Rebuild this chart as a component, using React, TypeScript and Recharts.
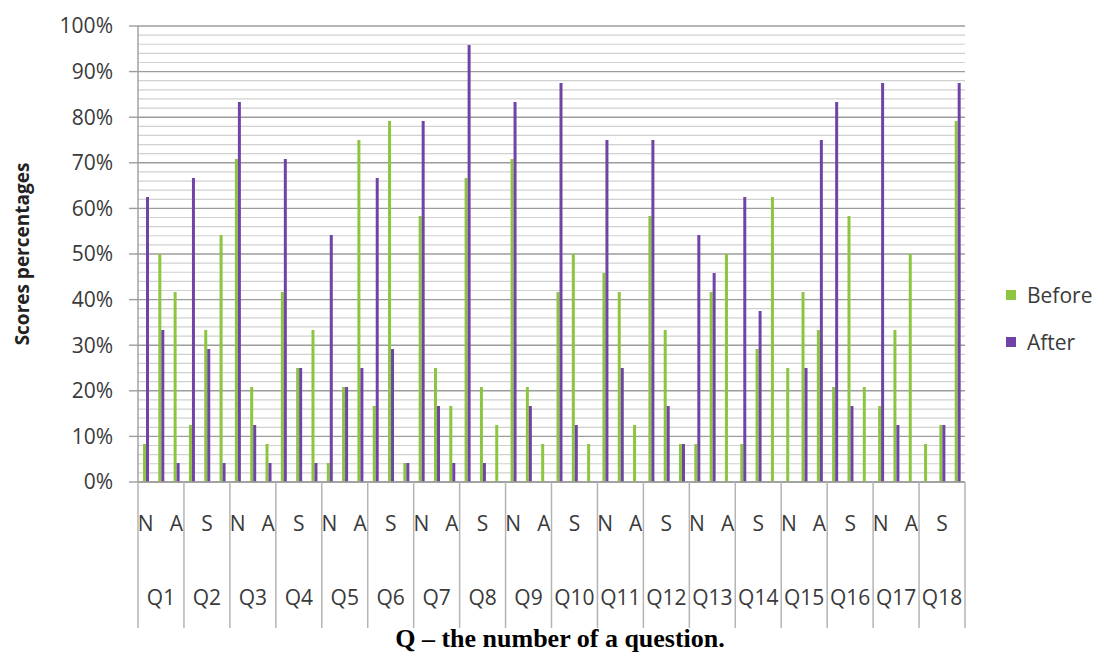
import React from 'react'
import { BarChart, Bar, XAxis, YAxis, CartesianGrid, ReferenceLine } from 'recharts'

// 18 questions, each split into N / S / A answers (only every 2nd sub label is shown, like Excel)
const questions = ['Q1', 'Q2', 'Q3', 'Q4', 'Q5', 'Q6', 'Q7', 'Q8', 'Q9', 'Q10', 'Q11', 'Q12', 'Q13', 'Q14', 'Q15', 'Q16', 'Q17', 'Q18']
const subLabels = ['N', 'S', 'A']

// percentages, ordered Q1-N, Q1-S, Q1-A, Q2-N, ...
const before = [
  8.33, 50, 41.67,
  12.5, 33.33, 54.17,
  70.83, 20.83, 8.33,
  41.67, 25, 33.33,
  4.17, 20.83, 75,
  16.67, 79.17, 4.17,
  58.33, 25, 16.67,
  66.67, 20.83, 12.5,
  70.83, 20.83, 8.33,
  41.67, 50, 8.33,
  45.83, 41.67, 12.5,
  58.33, 33.33, 8.33,
  8.33, 41.67, 50,
  8.33, 29.17, 62.5,
  25, 41.67, 33.33,
  20.83, 58.33, 20.83,
  16.67, 33.33, 50,
  8.33, 12.5, 79.17,
]
const after = [
  62.5, 33.33, 4.17,
  66.67, 29.17, 4.17,
  83.33, 12.5, 4.17,
  70.83, 25, 4.17,
  54.17, 20.83, 25,
  66.67, 29.17, 4.17,
  79.17, 16.67, 4.17,
  95.83, 4.17, 0,
  83.33, 16.67, 0,
  87.5, 12.5, 0,
  75, 25, 0,
  75, 16.67, 8.33,
  54.17, 45.83, 0,
  62.5, 37.5, 0,
  0, 25, 75,
  83.33, 16.67, 0,
  87.5, 12.5, 0,
  0, 12.5, 87.5,
]

const yTicks = [0, 10, 20, 30, 40, 50, 60, 70, 80, 90, 100]
const minorGrid = [2, 4, 6, 8, 12, 14, 16, 18, 22, 24, 26, 28, 32, 34, 36, 38, 42, 44, 46, 48, 52, 54, 56, 58, 62, 64, 66, 68, 72, 74, 76, 78, 82, 84, 86, 88, 92, 94, 96, 98]

const GREEN = '#8cc540'
const PURPLE = '#7043a6'
const FONT = '"Open Sans", "Liberation Sans", sans-serif'

const data = questions.flatMap((q, qi) =>
  subLabels.map((s, si) => ({
    key: `${q}-${s}`,
    q,
    s,
    before: before[qi * 3 + si],
    after: after[qi * 3 + si],
  }))
)

const CategoryTick = (props: any) => {
  const { x, y, index, payload } = props
  const item = data[index]
  const half = payload?.offset ?? 7.66
  const lineColor = '#b4b4b4'
  return (
    <g>
      {index % 2 === 0 && (
        <text x={x} y={y + 41} textAnchor="middle" dominantBaseline="central" fontSize={21} fill="#3a3a3a" fontFamily={FONT}>
          {item.s}
        </text>
      )}
      {index % 3 === 1 && (
        <text x={x} y={y + 115} textAnchor="middle" dominantBaseline="central" fontSize={21} fill="#3a3a3a" fontFamily={FONT}>
          {item.q}
        </text>
      )}
      {index % 3 === 0 && (
        <line x1={x - half} x2={x - half} y1={y} y2={y + 146} stroke={lineColor} strokeWidth={1.5} />
      )}
      {index === data.length - 1 && (
        <line x1={x + half} x2={x + half} y1={y} y2={y + 146} stroke={lineColor} strokeWidth={1.5} />
      )}
    </g>
  )
}

const YTitle = (props: any) => {
  const vb = props.viewBox
  const cy = vb.y + vb.height / 2
  return (
    <text x={22} y={cy} transform={`rotate(-90, 22, ${cy})`} textAnchor="middle" dominantBaseline="central"
      fontSize={19} fontWeight="bold" fill="#222" fontFamily={FONT}>
      Scores percentages
    </text>
  )
}

const legendItems = [{ name: 'Before', color: GREEN }, { name: 'After', color: PURPLE }]

export default function App() {
  return (
    <div style={{ position: 'absolute', left: 0, top: 0, width: 1097, height: 655, background: '#fff' }}>
      <BarChart
        width={1097}
        height={655}
        data={data}
        margin={{ top: 26, right: 132, left: 0, bottom: 27 }}
        barGap={0}
        barSize={3}
      >
        {/* 2% minor gridlines, kept behind the bars */}
        {minorGrid.map((v) => (
          <ReferenceLine key={v} y={v} stroke="#d0d0d0" strokeWidth={1.2} ifOverflow="hidden" zIndex={-60} />
        ))}
        <CartesianGrid vertical={false} stroke="#9c9c9c" strokeWidth={1.4} />
        <XAxis
          dataKey="key"
          interval={0}
          height={146}
          tickSize={0}
          tickMargin={0}
          tickLine={false}
          axisLine={{ stroke: '#9c9c9c', strokeWidth: 1.4 }}
          tick={<CategoryTick />}
        />
        <YAxis
          width={138}
          domain={[0, 100]}
          ticks={yTicks}
          tickFormatter={(v: number) => `${v}%`}
          tickSize={9}
          tickMargin={16}
          axisLine={{ stroke: '#9c9c9c', strokeWidth: 1.4 }}
          tickLine={{ stroke: '#9c9c9c', strokeWidth: 1.4 }}
          tick={{ fontSize: 21, fill: '#3a3a3a', fontFamily: FONT }}
          label={<YTitle />}
        />
        <Bar dataKey="before" name="Before" fill={GREEN} isAnimationActive={false} />
        <Bar dataKey="after" name="After" fill={PURPLE} isAnimationActive={false} />
      </BarChart>
      <div style={{ position: 'absolute', left: 1006, top: 271, fontFamily: FONT, fontSize: 21, color: '#3a3a3a' }}>
        {legendItems.map((it) => (
          <div key={it.name} style={{ display: 'flex', alignItems: 'center', height: 47 }}>
            <span style={{ width: 10, height: 10, background: it.color, marginRight: 11, display: 'inline-block' }} />
            <span>{it.name}</span>
          </div>
        ))}
      </div>
      <div
        style={{
          position: 'absolute',
          left: 0,
          width: 1120,
          top: 624,
          textAlign: 'center',
          fontFamily: '"Liberation Serif", "Times New Roman", serif',
          fontWeight: 'bold',
          fontSize: 26,
          color: '#000',
        }}
      >
        Q – the number of a question.
      </div>
    </div>
  )
}
